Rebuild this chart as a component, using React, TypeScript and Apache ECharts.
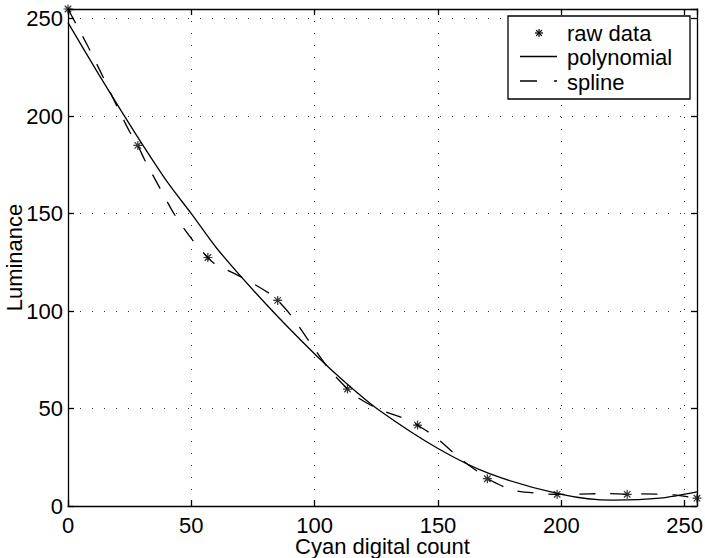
import React, { useEffect, useRef } from "react";
import * as echarts from "echarts";

// raw measured data
const rawX = [0, 28.3, 56.7, 85, 113.3, 141.7, 170, 198.3, 226.7, 255];
const rawY = [255, 185, 127.5, 105.5, 60, 41.5, 14, 6, 6, 4];

// polynomial fit
const polyX = [0, 13.4, 26.9, 40.4, 50, 60.7, 81, 100, 112.8, 126.3, 150, 170.9, 200, 221, 240, 255];
const polyY = [248, 219.5, 192, 166, 150, 131.6, 102.6, 78, 63, 49, 29.5, 16.6, 6, 3, 4, 7.2];

// spline
const splineX = [0, 7.8, 13.6, 19.1, 25, 28.3, 31, 37.2, 43.6, 51.1, 56.7, 59.6, 70.8, 81.7, 85, 90.9, 98.3, 106, 113.3, 115.2, 125.7, 138, 141.7, 149, 157.4, 167.5, 170, 180.7, 193, 198.3, 204, 219, 226.7, 231, 245.6, 255];
const splineY = [255, 236.5, 221.7, 207, 192, 185, 177.8, 163.2, 148.7, 135.5, 127.5, 124.2, 117.1, 109, 105.5, 97, 83.5, 70, 60, 57.5, 49.8, 44.2, 41.5, 35.4, 26, 16.3, 14, 8, 6.3, 6, 6, 6.4, 6, 6.2, 5.7, 4];

const legendLabels = ["raw data", "polynomial", "spline"];
const xTitle = "Cyan digital count";
const yTitle = "Luminance";

const ASTERISK = "path://M0,-5L0,5M-5,0L5,0M-3.6,-3.6L3.6,3.6M-3.6,3.6L3.6,-3.6";

export default function App() {
  const ref = useRef<HTMLDivElement>(null);
  useEffect(() => {
    const chart = echarts.init(ref.current!, null, { renderer: "svg" });
    const font = "'Liberation Sans', Arial, Helvetica, sans-serif";
    const axisLine = { show: true, onZero: false, lineStyle: { color: "#000", width: 1.3 } };
    const tick = { show: true, inside: true, length: 6, lineStyle: { color: "#000", width: 1.3 } };
    const split = { show: true, lineStyle: { color: "#333", width: 1, type: [1, 11] } };
    const fmt = (v: number) => (v % 50 === 0 ? String(v) : "");
    const lblStyle = { fontFamily: font, fontSize: 22, color: "#000", lineHeight: 22 };

    const lx = 508, ly = 16, lw = 182, lh = 83;
    const rowY = [33, 57.5, 82];
    const iconX1 = 520, iconX2 = 557, textX = 567;
    const ax = 539, ar = 4, ad = 2.9;

    chart.setOption({
      animation: false,
      backgroundColor: "#fff",
      grid: { left: 68, right: 8, top: 9, bottom: 52, containLabel: false, outerBoundsMode: "none" },
      xAxis: [
        {
          type: "value", min: 0, max: 255, interval: 50, position: "bottom",
          name: xTitle, nameLocation: "middle", nameGap: 29.5, nameMoveOverlap: false, nameTextStyle: lblStyle,
          axisLine, axisTick: tick,
          axisLabel: { formatter: fmt, margin: 8, ...lblStyle },
          splitLine: split,
        },
        {
          type: "value", min: 0, max: 255, interval: 50, position: "top",
          axisLine, axisTick: tick, axisLabel: { show: false }, splitLine: { show: false },
        },
      ],
      yAxis: [
        {
          type: "value", min: 0, max: 255, interval: 50, position: "left",
          name: yTitle, nameLocation: "middle", nameGap: 43, nameRotate: 90, nameMoveOverlap: false, nameTextStyle: lblStyle,
          axisLine, axisTick: tick,
          axisLabel: { formatter: fmt, margin: 5, ...lblStyle },
          splitLine: split,
        },
        {
          type: "value", min: 0, max: 255, interval: 50, position: "right",
          axisLine, axisTick: tick, axisLabel: { show: false }, splitLine: { show: false },
        },
      ],
      series: [
        {
          name: legendLabels[1], type: "line", xAxisIndex: 0, yAxisIndex: 0,
          data: polyX.map((x, i) => [x, polyY[i]]),
          smooth: 0.3, symbol: "none", clip: false,
          lineStyle: { color: "#000", width: 1.3 }, z: 2,
        },
        {
          name: legendLabels[2], type: "line", xAxisIndex: 0, yAxisIndex: 0,
          data: splineX.map((x, i) => [x, splineY[i]]),
          smooth: 0.3, symbol: "none", clip: false,
          lineStyle: { color: "#000", width: 1.3, type: [16, 15] }, z: 3,
        },
        {
          name: legendLabels[0], type: "scatter", xAxisIndex: 0, yAxisIndex: 0,
          data: rawX.map((x, i) => [x, rawY[i]]),
          symbol: ASTERISK, symbolSize: 9, clip: false,
          itemStyle: { color: "#000", borderColor: "#000", borderWidth: 1.2 }, z: 5,
        },
      ],
      graphic: [
        {
          type: "rect", z: 100,
          shape: { x: lx, y: ly, width: lw, height: lh },
          style: { fill: "#fff", stroke: "#000", lineWidth: 1.3 },
        },
        { type: "line", z: 101, shape: { x1: ax, y1: rowY[0] - ar, x2: ax, y2: rowY[0] + ar }, style: { stroke: "#000", lineWidth: 1.2 } },
        { type: "line", z: 101, shape: { x1: ax - ar, y1: rowY[0], x2: ax + ar, y2: rowY[0] }, style: { stroke: "#000", lineWidth: 1.2 } },
        { type: "line", z: 101, shape: { x1: ax - ad, y1: rowY[0] - ad, x2: ax + ad, y2: rowY[0] + ad }, style: { stroke: "#000", lineWidth: 1.2 } },
        { type: "line", z: 101, shape: { x1: ax - ad, y1: rowY[0] + ad, x2: ax + ad, y2: rowY[0] - ad }, style: { stroke: "#000", lineWidth: 1.2 } },
        { type: "line", z: 101, shape: { x1: iconX1, y1: rowY[1] - 1, x2: iconX2, y2: rowY[1] - 1 }, style: { stroke: "#000", lineWidth: 1.3 } },
        { type: "line", z: 101, shape: { x1: iconX1, y1: rowY[2] - 1, x2: iconX2, y2: rowY[2] - 1 }, style: { stroke: "#000", lineWidth: 1.3, lineDash: [17, 17] } },
        ...legendLabels.map((t, i) => ({
          type: "text", z: 101, x: textX, y: rowY[i],
          style: { text: t, fontFamily: font, fontSize: 22, fill: "#000", verticalAlign: "middle", align: "left" },
        })),
      ],
    });
    return () => chart.dispose();
  }, []);
  return <div ref={ref} style={{ position: "fixed", left: 0, top: 0, width: 705, height: 558 }} />;
}
